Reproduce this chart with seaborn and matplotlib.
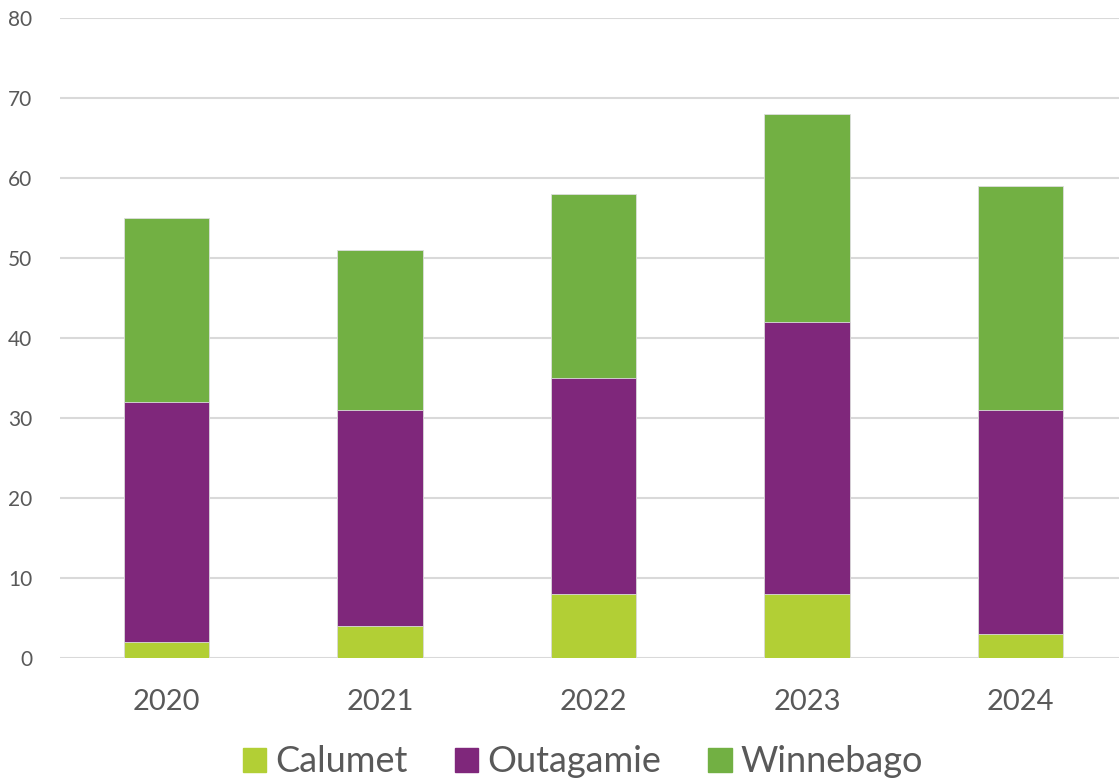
import numpy as np
import pandas as pd
import matplotlib.pyplot as plt
import seaborn as sns
from matplotlib.patches import Patch

years = ["2020", "2021", "2022", "2023", "2024"]
calumet = [2, 4, 8, 8, 3]
outagamie = [30, 27, 27, 34, 28]
winnebago = [23, 20, 23, 26, 28]

colors = {"Calumet": "#B2CF35", "Outagamie": "#7F277B", "Winnebago": "#72B043"}
text_color = "#595959"

sns.set_style("white")
plt.rcParams["font.family"] = ["Lato", "DejaVu Sans"]

df = pd.DataFrame({"year": years, "Calumet": calumet,
                   "Outagamie": outagamie, "Winnebago": winnebago})
df["top_outagamie"] = df["Calumet"] + df["Outagamie"]
df["top_winnebago"] = df["top_outagamie"] + df["Winnebago"]

fig = plt.figure(figsize=(11.19, 7.81), dpi=100)
ax = fig.add_axes([60 / 1119, 123 / 781, 1067 / 1119, 640 / 781])

# stacked bars: draw cumulative totals back to front
for col, name in [("top_winnebago", "Winnebago"), ("top_outagamie", "Outagamie"),
                  ("Calumet", "Calumet")]:
    sns.barplot(data=df, x="year", y=col, color=colors[name], width=0.4,
                saturation=1, ax=ax, zorder=3, edgecolor="#dddddd", linewidth=0.6)

ax.set_ylim(0, 80)
ax.set_xlim(-0.5, 4.5)
ax.set_yticks(range(0, 81, 10))
ax.yaxis.grid(True, color="#D9D9D9", linewidth=1.5, zorder=0)
ax.set_axisbelow(True)
for s in ax.spines.values():
    s.set_visible(False)
ax.set_xlabel("")
ax.set_ylabel("")
ax.tick_params(axis="y", length=0, pad=20, labelsize=15, labelcolor=text_color)
ax.tick_params(axis="x", length=0, pad=22, labelsize=21, labelcolor=text_color)

handles = [Patch(color=colors[n], label=n) for n in ["Calumet", "Outagamie", "Winnebago"]]
fig.legend(handles=handles, loc="center", bbox_to_anchor=(583 / 1119, 19 / 781),
           ncol=3, frameon=False, fontsize=26, labelcolor=text_color,
           handlelength=0.65, handleheight=0.65, handletextpad=0.25, columnspacing=1.3,
           borderaxespad=0)

fig.savefig("out.png", dpi=100)
